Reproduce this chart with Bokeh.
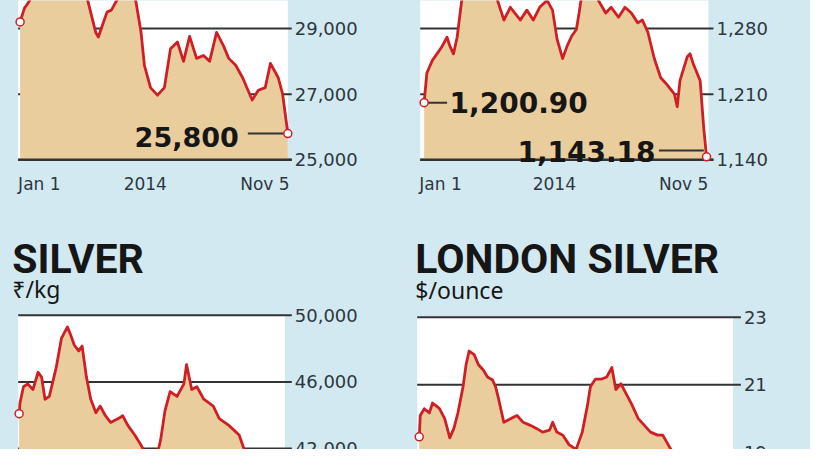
from bokeh.plotting import figure
from bokeh.layouts import column, row
from bokeh.models import Range1d
from bokeh.core.properties import value
from bokeh.embed import file_html
from bokeh.resources import INLINE

# ---------------- data (day offset from Jan 1, 2014) ----------------
gold_inr_day = [0, 5, 9, 14, 23, 34, 45, 56, 68, 77, 82, 87, 90, 95, 100, 105, 111, 116,
                124, 130, 133, 139, 143, 150, 158, 166, 173, 181, 188, 195, 203, 211, 218,
                226, 234, 240, 248, 256, 267, 274, 282, 288, 297, 302, 308]
gold_inr = [29200, 29620, 29770, 30000, 30300, 30600, 30750, 30600, 30300, 29940, 29410,
            28880, 28740, 29120, 29500, 29560, 29850, 30150, 30300, 30000, 29850, 28910,
            27880, 27200, 26970, 27200, 28380, 28590, 28000, 28760, 28090, 28180, 28000,
            28880, 28470, 28090, 27880, 27500, 26820, 27120, 27200, 27940, 27500, 27000, 25800]
gold_inr_ticks = [29000, 27000, 25000]
gold_inr_tick_labels = ["29,000", "27,000", "25,000"]

gold_usd_day = [0, 3, 9, 14, 19, 25, 28, 32, 36, 41, 46, 57, 67, 75, 80, 87, 94, 105, 112,
                119, 126, 134, 140, 145, 151, 156, 161, 166, 169, 171, 177, 184, 188, 190,
                198, 204, 212, 219, 226, 233, 238, 244, 251, 258, 265, 273, 276, 279, 287,
                290, 294, 301, 305, 308]
gold_usd = [1200.90, 1232.6, 1246, 1253, 1260, 1270.7, 1261.5, 1253, 1270.7, 1310, 1330,
            1335, 1340, 1380, 1310, 1289, 1302.6, 1289, 1299.6, 1289, 1302.6, 1310, 1299.6,
            1268.7, 1248, 1261.5, 1272, 1279, 1296.5, 1310, 1325, 1335, 1320, 1310, 1296.5,
            1302.6, 1292, 1302.6, 1296.5, 1286, 1289, 1276, 1248, 1227.5, 1220, 1210,
            1196.6, 1224.4, 1250, 1253, 1241, 1224.4, 1173, 1143.18]
gold_usd_ticks = [1280, 1210, 1140]
gold_usd_tick_labels = ["1,280", "1,210", "1,140"]

silver_inr_day = [0, 1, 5, 10, 16, 22, 26, 30, 35, 43, 49, 56, 60, 64, 69, 73, 78, 83, 89,
                  94, 100, 106, 115, 120, 126, 134, 141, 147, 155, 160, 164, 169, 175, 183,
                  191, 194, 200, 206, 214, 225, 232, 243, 255, 260, 268, 276, 285, 294, 302, 308]
silver_inr = [44090, 44725, 45710, 45880, 45540, 46580, 46290, 44960, 45130, 46870, 48610,
              49300, 48780, 48200, 47860, 48150, 46290, 44960, 44150, 44550, 43970, 43570,
              43800, 43970, 43390, 42810, 42230, 41650, 41360, 41650, 42520, 44260, 45420,
              45130, 45880, 47040, 45540, 45710, 44960, 44550, 43800, 43390, 42810, 42060,
              41360, 40800, 39900, 38750, 37600, 35850]
silver_inr_ticks = [50000, 46000, 42000]
silver_inr_tick_labels = ["50,000", "46,000", "42,000"]

silver_usd_day = [0, 1, 5, 10, 13, 17, 20, 25, 30, 34, 38, 43, 46, 49, 54, 58, 63, 67, 72,
                  75, 78, 83, 90, 96, 102, 109, 115, 121, 128, 131, 135, 141, 147, 154, 160,
                  165, 168, 173, 179, 184, 189, 193, 198, 203, 208, 215, 221, 227, 234, 239,
                  246, 253, 263, 272, 282, 292, 299, 308]
silver_usd = [19.46, 20.09, 20.29, 20.17, 20.46, 20.37, 20.29, 20.00, 19.43, 19.71, 20.17,
              20.94, 21.60, 22.00, 21.89, 21.60, 21.43, 21.23, 21.14, 20.94, 20.57, 19.89,
              20.00, 20.09, 19.89, 19.80, 19.71, 19.60, 19.66, 19.89, 19.60, 19.51, 19.23,
              19.09, 19.60, 20.37, 20.94, 21.17, 21.17, 21.23, 21.51, 20.86, 21.03, 20.74,
              20.46, 20.00, 19.80, 19.60, 19.51, 19.51, 19.14, 18.80, 18.37, 18.09, 17.80,
              17.37, 16.94, 15.66]
silver_usd_ticks = [23, 21, 19]
silver_usd_tick_labels = ["23", "21", "19"]

date_labels = ["Jan 1", "2014", "Nov 5"]

# ---------------- styles ----------------
BG = "#d3e9f1"
BEIGE = "#eacd9d"
RED = "#cf1f26"
DARK = "#333333"
TXT = "#2d3740"
INK = "#161616"
TICK_FONT = value("DejaVu Sans")
BIG_FONT = value("DejaVu Sans")
HEAD_FONT = value("Roboto")

# content is a uniformly scaled copy of the 826x465 original
SX, SY = 810 / 826, 449 / 465


def x_range(px0, px1, a, b):
    # original-pixel x = a + b * day
    return Range1d((px0 / SX - a) / b, (px1 / SX - a) / b)


def y_range(py0, py1, c, v0, k):
    # original-pixel y = c - k * (v - v0)
    return Range1d(v0 + (c - py1 / SY) / k, v0 + (c - py0 / SY) / k)


def make_fig(w, h, xr, yr):
    p = figure(width=w, height=h, x_range=xr, y_range=yr,
               output_backend="svg", toolbar_location=None, min_border=0,
               x_axis_type=None, y_axis_type=None)
    p.xgrid.visible = False
    p.ygrid.visible = False
    p.outline_line_color = None
    p.background_fill_color = BG
    p.border_fill_color = BG
    return p


def panel(p, day, vals, base, ticks, labels, box_l, box_r, box_bottom, box_top, grid_r):
    n = len(ticks)
    p.quad(left=[box_l], right=[box_r], bottom=[box_bottom], top=[box_top],
           fill_color="white", line_color=None)
    p.segment(x0=[box_l] * n, y0=ticks, x1=[grid_r] * n, y1=ticks,
              line_color=DARK, line_width=2)
    p.varea(x=day, y1=[base] * len(day), y2=vals, fill_color=BEIGE)
    p.line(day, vals, line_color=RED, line_width=2.8, line_join="round")
    p.text(x=[grid_r] * n, y=ticks, text=labels, x_offset=3, text_font=TICK_FONT,
           text_font_size="18px", text_color=TXT, text_align="left",
           text_baseline="alphabetic")


def date_axis(p, ypos, x_left, x_mid, x_right):
    for x, t, al in zip([x_left, x_mid, x_right], date_labels, ["left", "center", "right"]):
        p.text(x=[x], y=[ypos], text=[t], text_font=TICK_FONT, text_font_size="17px",
               text_color=TXT, text_align=al, text_baseline="alphabetic")


def end_marker(p, x, y):
    p.scatter([x], [y], marker="circle", size=8, fill_color="white",
              line_color=RED, line_width=1.5)


def fmt(v, dec=0):
    return f"{v:,.{dec}f}"


# ---------------- top-left: gold, Rs/10g ----------------
tl = make_fig(410, 200, x_range(0, 410, 20, 0.8864), y_range(0, 200, 165, 25000, 0.034))
panel(tl, gold_inr_day, gold_inr, 25000, gold_inr_ticks, gold_inr_tick_labels,
      -2.3, 308, 25000, 40000, 312.5)
tl.segment(x0=[-2.3], y0=[25000], x1=[312.5], y1=[25000], line_color=DARK, line_width=2.5)
date_axis(tl, 24265, -2.3, 144, 310)
end_marker(tl, gold_inr_day[0], gold_inr[0])
tl.segment(x0=[262], y0=[gold_inr[-1]], x1=[305], y1=[gold_inr[-1]], line_color=DARK, line_width=2)
end_marker(tl, gold_inr_day[-1], gold_inr[-1])
tl.text(x=[251.6], y=[gold_inr[-1]], text=[fmt(gold_inr[-1])], text_font=BIG_FONT,
        text_font_size="27px", text_font_style="bold", text_color=INK,
        text_align="right", text_baseline="middle", y_offset=3)

# ---------------- top-right: London gold, $/ounce ----------------
tr = make_fig(400, 200, x_range(410, 810, 432, 0.9351), y_range(0, 200, 165, 1140, 0.97143))
panel(tr, gold_usd_day, gold_usd, 1140, gold_usd_ticks, gold_usd_tick_labels,
      -4.3, 310, 1140, 1500, 315.5)
tr.segment(x0=[-4.3], y0=[1140], x1=[315.5], y1=[1140], line_color=DARK, line_width=2.5)
date_axis(tr, 1114.3, -5.3, 142, 310)
tr.segment(x0=[4], y0=[gold_usd[0]], x1=[25], y1=[gold_usd[0]], line_color=DARK, line_width=2)
end_marker(tr, gold_usd_day[0], gold_usd[0])
tr.text(x=[27.8], y=[gold_usd[0]], text=[fmt(gold_usd[0], 2)], text_font=BIG_FONT,
        text_font_size="28px", text_font_style="bold", text_color=INK,
        text_align="left", text_baseline="middle")
tr.segment(x0=[256], y0=[1150], x1=[305], y1=[1150], line_color=DARK, line_width=2)
end_marker(tr, gold_usd_day[-1], gold_usd[-1])
tr.text(x=[252.4], y=[gold_usd[-1]], text=[fmt(gold_usd[-1], 2)], text_font=BIG_FONT,
        text_font_size="28px", text_font_style="bold", text_color=INK,
        text_align="right", text_baseline="alphabetic", y_offset=-5)

# ---------------- bottom-left: silver, Rs/kg ----------------
bl = make_fig(410, 249, x_range(0, 410, 19, 0.8799), y_range(200, 449, 395, 46000, 0.01725))
panel(bl, silver_inr_day, silver_inr, 30000, silver_inr_ticks, silver_inr_tick_labels,
      -1.1, 308, 30000, 50000, 316)
end_marker(bl, silver_inr_day[0], silver_inr[0])
bl.text(x=[-8], y=[53362], text=["SILVER"], text_font=HEAD_FONT,
        text_font_size="41px", text_font_style="bold", text_color=INK,
        text_align="left", text_baseline="alphabetic")
bl.text(x=[-8], y=[51565], text=["₹/kg"], text_font=value("Noto Sans"),
        text_font_size="23px", text_color=INK, text_align="left", text_baseline="alphabetic")

# ---------------- bottom-right: London silver, $/ounce ----------------
br = make_fig(400, 249, x_range(410, 810, 427, 1.039), y_range(200, 449, 398, 21, 35))
panel(br, silver_usd_day, silver_usd, 10, silver_usd_ticks, silver_usd_tick_labels,
      -2, 308, 10, 23, 315.7)
end_marker(br, silver_usd_day[0], silver_usd[0])
br.text(x=[-3.85], y=[24.714], text=["LONDON SILVER"], text_font=HEAD_FONT,
        text_font_size="41px", text_font_style="bold", text_color=INK,
        text_align="left", text_baseline="alphabetic")
br.text(x=[-3.85], y=[23.8], text=["$/ounce"], text_font=value("Noto Sans"),
        text_font_size="23px", text_color=INK, text_align="left", text_baseline="alphabetic")

layout = column(row(tl, tr, spacing=0, styles={"background-color": BG}),
                row(bl, br, spacing=0, styles={"background-color": BG}),
                spacing=0, styles={"background-color": BG})
open("out.html", "w").write(file_html(layout, INLINE))
